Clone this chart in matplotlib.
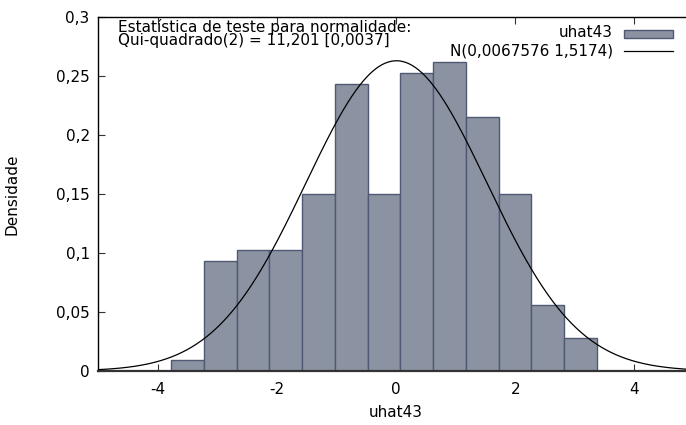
import numpy as np
import matplotlib
matplotlib.use("Agg")
import matplotlib.pyplot as plt
from matplotlib.patches import Rectangle
from matplotlib.lines import Line2D

# histogram of uhat43 (densities)
bin_left = -3.77
bin_width = 0.549
densidade = [0.0093, 0.0935, 0.1028, 0.1028, 0.1496, 0.2431, 0.1496,
             0.2524, 0.2618, 0.2150, 0.1496, 0.0561, 0.0280]
media = 0.0067576
desvio = 1.5174

x_ticks = [-4, -2, 0, 2, 4]
x_labels = ['-4', '-2', '0', '2', '4']
y_ticks = [0, 0.05, 0.1, 0.15, 0.2, 0.25, 0.3]
y_labels = ['0', '0,05', '0,1', '0,15', '0,2', '0,25', '0,3']

plt.rcParams['font.family'] = 'DejaVu Sans'
fig = plt.figure(figsize=(6.86, 4.25), dpi=100)
ax = fig.add_axes([98/686, 54/425, 1 - 98/686 + 0.01, (371 - 17)/425])

fill = '#8b93a2'
edge = '#4f5a72'
lefts = bin_left + bin_width*np.arange(len(densidade))
ax.bar(lefts, densidade, width=bin_width, align='edge', color=fill,
       edgecolor=edge, linewidth=1.0, zorder=2)

xs = np.linspace(-5, 5, 600)
pdf = np.exp(-0.5*((xs - media)/desvio)**2)/(desvio*np.sqrt(2*np.pi))
ax.plot(xs, pdf, color='black', lw=0.9, zorder=3)

ax.set_xlim(-5, 4.98)
ax.set_ylim(0, 0.3)
ax.set_xticks(x_ticks)
ax.set_xticklabels(x_labels)
ax.set_yticks(y_ticks)
ax.set_yticklabels(y_labels)
ax.tick_params(direction='in', length=5, width=0.8, top=True, right=False,
               labelsize=11, pad=8, color='#333333')
ax.tick_params(axis='y', pad=6)
for s in ax.spines.values():
    s.set_linewidth(1.0)
ax.spines['right'].set_visible(False)
ax.spines['bottom'].set_linewidth(1.6)
ax.spines['bottom'].set_color('#333333')

ax.set_xlabel('uhat43', fontsize=11, labelpad=6)
ax.set_ylabel('Densidade', fontsize=11, labelpad=26)

ax.text(0.033, 0.959, 'Estatística de teste para normalidade:',
        transform=ax.transAxes, fontsize=11, va='baseline', ha='left')
ax.text(0.033, 0.921, 'Qui-quadrado(2) = 11,201 [0,0037]',
        transform=ax.transAxes, fontsize=11, va='baseline', ha='left')

# legend drawn by hand, gnuplot style
ax.text(0.866, 0.955, 'uhat43', transform=ax.transAxes, fontsize=11,
        va='center', ha='right')
ax.add_patch(Rectangle((0.884, 0.940), 0.082, 0.0245, transform=ax.transAxes,
                       facecolor=fill, edgecolor=edge, lw=1.0, zorder=4))
ax.text(0.866, 0.904, 'N(0,0067576 1,5174)', transform=ax.transAxes,
        fontsize=11, va='center', ha='right')
ax.add_line(Line2D([0.884, 0.966], [0.904, 0.904], transform=ax.transAxes,
                   color='black', lw=0.9))

fig.savefig('out.png', dpi=100)
